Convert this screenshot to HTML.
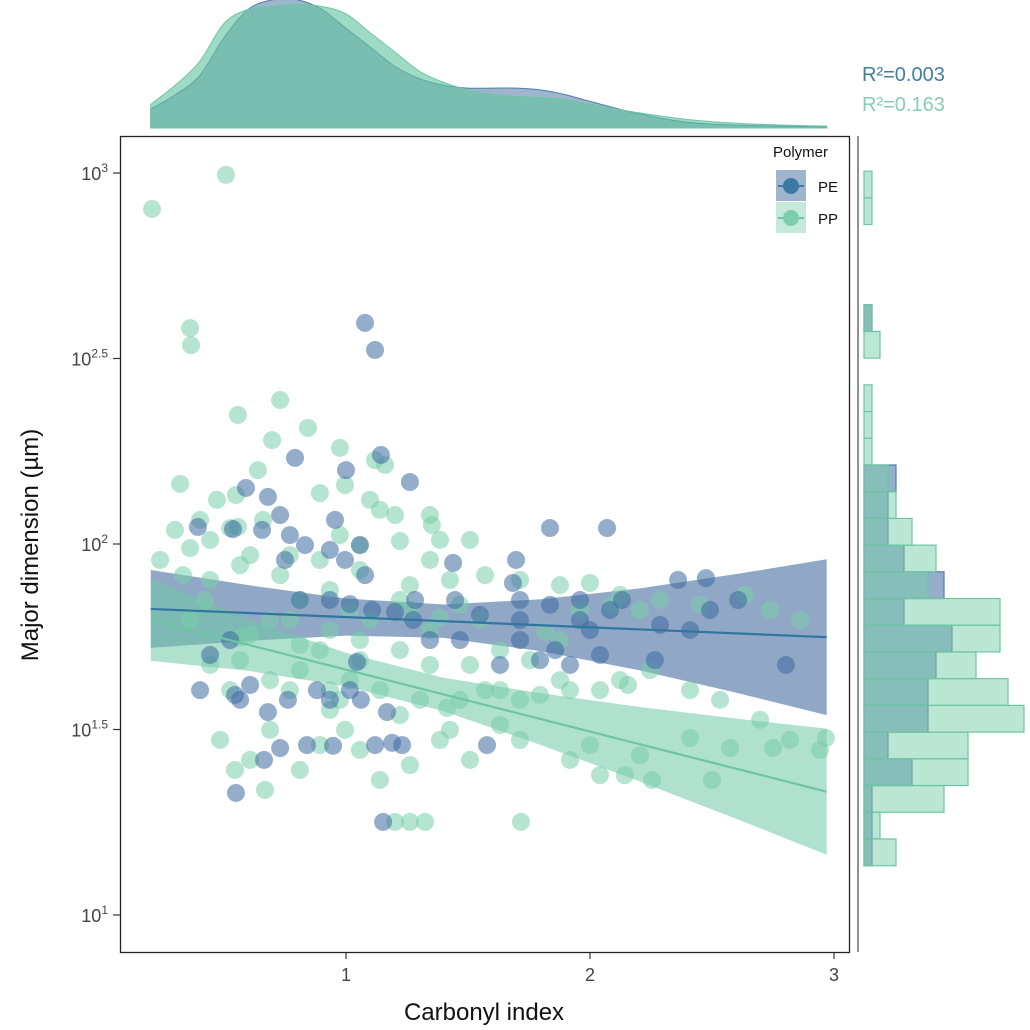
<!DOCTYPE html>
<html><head><meta charset="utf-8"><style>
html,body{margin:0;padding:0;background:#fff;}
svg{display:block;font-family:"Liberation Sans",Arial,sans-serif;}
</style></head><body>
<svg id="chart" width="1030" height="1030" viewBox="0 0 1030 1030" xmlns="http://www.w3.org/2000/svg">
<g id="density"></g>
<g id="hist"></g>
<g id="bands"></g>
<g id="points"></g>
<g id="lines"></g>
<rect x="120.5" y="136.5" width="729" height="816" fill="none" stroke="#222" stroke-width="1.3"/>
<line x1="858" y1="136" x2="858" y2="952" stroke="#222" stroke-width="1"/>
<g id="axes"></g>
<text x="484" y="1020" font-size="24" text-anchor="middle" fill="#111">Carbonyl index</text>
<text transform="translate(38,545) rotate(-90)" font-size="24" text-anchor="middle" fill="#111">Major dimension (µm)</text>
<g>
<text x="773" y="157" font-size="15" fill="#111">Polymer</text>
<g>
<rect x="776" y="170" width="30" height="31" fill="rgba(80,120,165,0.55)"/>
<line x1="778" y1="186" x2="804" y2="186" stroke="#3a7aa3" stroke-width="2"/>
<circle cx="791" cy="186" r="8" fill="#3a7aa3"/>
<text x="818" y="192" font-size="15" fill="#111">PE</text>
</g>
<g>
<rect x="776" y="202" width="30" height="31" fill="rgba(110,200,165,0.4)"/>
<line x1="778" y1="218" x2="804" y2="218" stroke="#6cc6a4" stroke-width="2"/>
<circle cx="791" cy="218" r="8" fill="#7ccfae"/>
<text x="818" y="224" font-size="15" fill="#111">PP</text>
</g>
</g>
<text x="862" y="81" font-size="20" fill="#3f7fa0">R²=0.003</text>
<text x="862" y="111" font-size="20" fill="#84cfb2">R²=0.163</text>
</svg>
<script>
// ---- data ----
const peX = [1.078,1.119,0.590,0.680,0.730,0.791,1.000,1.143,1.262,0.393,0.537,0.656,0.770,0.832,0.750,0.934,0.996,1.057,0.955,1.078,1.836,2.070,1.697,1.684,1.439,1.275,1.201,1.344,1.107,1.016,0.934,0.811,1.549,1.713,1.836,1.959,1.959,2.0,2.131,2.287,2.492,2.607,2.803,2.361,1.467,1.713,1.857,2.041,1.918,1.631,0.525,0.443,0.607,0.680,0.762,0.566,0.402,0.545,0.730,0.840,1.016,0.934,0.881,1.061,1.168,0.947,1.230,1.189,1.119,1.578,0.549,0.664,1.152,1.045,1.795,1.713,1.283,1.447,2.082,2.266,2.410,2.475];
const peY = [2.596,2.523,2.151,2.127,2.078,2.232,2.199,2.240,2.167,2.046,2.040,2.038,2.024,1.997,1.957,1.984,1.957,1.997,2.065,1.916,2.043,2.043,1.957,1.895,1.949,1.795,1.817,1.741,1.822,1.838,1.849,1.849,1.809,1.795,1.836,1.849,1.795,1.768,1.849,1.782,1.822,1.849,1.674,1.903,1.741,1.741,1.714,1.701,1.674,1.674,1.741,1.701,1.620,1.547,1.580,1.580,1.606,1.593,1.450,1.458,1.606,1.580,1.606,1.580,1.547,1.456,1.458,1.464,1.458,1.458,1.329,1.418,1.251,1.682,1.687,1.849,1.849,1.849,1.822,1.687,1.768,1.908];
const ppX = [0.205,0.508,0.361,0.365,0.557,0.730,0.697,0.320,0.639,0.471,0.549,0.660,0.557,0.844,0.975,1.119,1.160,0.893,0.996,1.098,1.201,1.344,0.238,0.361,0.525,0.443,0.607,0.770,0.893,0.975,1.057,1.221,1.344,1.139,1.385,0.443,0.566,0.730,0.811,0.934,1.057,1.262,1.426,1.570,1.713,1.877,2.0,2.123,2.287,2.451,2.635,2.861,2.738,2.205,1.877,1.549,1.344,1.221,1.057,0.893,0.770,0.607,0.566,0.689,0.811,0.975,1.016,1.139,1.303,1.467,1.631,1.754,1.877,2.041,2.123,2.246,2.410,2.533,2.697,2.820,2.943,0.607,0.668,0.545,0.484,0.689,0.811,0.893,0.934,0.996,1.057,1.139,1.262,1.385,1.508,1.631,1.713,1.918,2.041,2.205,2.410,2.500,2.574,2.750,2.967,2.254,2.143,1.262,1.201,1.324,1.717,1.414,1.570,1.713,1.918,2.0,2.156,1.795,1.631,1.467,1.344,1.508,0.566,0.422,0.332,0.299,0.402,1.508,1.352,1.221,1.016,0.934,0.811,1.057,1.221,1.426,1.816,1.959,2.090,0.934,0.770,0.525,0.443,0.361,1.385,1.262,1.098,0.689];
const ppY = [2.903,2.995,2.582,2.536,2.348,2.388,2.280,2.162,2.199,2.119,2.132,2.065,2.046,2.313,2.259,2.226,2.213,2.137,2.159,2.119,2.078,2.078,1.957,1.989,2.043,2.011,1.970,1.970,1.957,2.024,1.997,2.008,1.957,2.092,2.011,1.903,1.943,1.916,1.849,1.876,1.930,1.889,1.903,1.916,1.903,1.889,1.895,1.863,1.849,1.836,1.863,1.795,1.822,1.822,1.741,1.795,1.768,1.714,1.741,1.714,1.795,1.755,1.687,1.633,1.660,1.580,1.633,1.606,1.580,1.580,1.606,1.687,1.633,1.606,1.633,1.660,1.606,1.580,1.526,1.472,1.445,1.418,1.337,1.391,1.472,1.499,1.391,1.458,1.553,1.499,1.445,1.364,1.404,1.472,1.418,1.512,1.472,1.418,1.377,1.431,1.477,1.364,1.450,1.450,1.477,1.364,1.377,1.251,1.251,1.251,1.251,1.558,1.606,1.580,1.606,1.458,1.620,1.593,1.714,1.836,1.674,1.674,1.747,1.849,1.916,2.038,2.065,2.011,2.051,1.849,1.822,1.768,1.728,1.687,1.539,1.499,1.763,1.822,1.836,1.606,1.606,1.606,1.674,1.795,1.801,1.822,1.795,1.795];
// regression fits (log10 y = intercept + slope * x)
const peFit = [1.8305, -0.0275];
const ppFit = [1.8284, -0.167];
const bandX = [0.2,0.6,1.0,1.4,1.8,2.2,2.6,2.97];
const peBandHalf = [0.105,0.075,0.05,0.045,0.07,0.11,0.16,0.21];
const ppBandHalf = [0.11,0.07,0.045,0.045,0.07,0.10,0.135,0.17];
// marginal density (x grid, heights)
const densX = [0.2,0.3,0.4,0.5,0.6,0.7,0.8,0.9,1.0,1.1,1.2,1.3,1.4,1.5,1.6,1.7,1.8,1.9,2.0,2.2,2.4,2.6,2.8,2.97];
const pePdf = [20,35,55,95,125,135,135,125,105,85,65,52,45,42,42,42,40,35,28,15,6,3,2,1];
const ppPdf = [25,45,70,110,125,128,130,128,120,100,80,60,48,40,35,33,32,30,25,16,9,5,3,2];
// marginal histogram (log10 bins)
const binStart = 1.133, binWidth = 0.072;
const peCounts = [1,1,1,6,3,8,8,9,11,5,10,5,3,3,4,0,0,0,0,0,1,0,0,0,0,0];
const ppCounts = [4,2,10,13,13,20,18,14,17,17,8,9,6,4,3,1,1,1,0,2,1,0,0,0,1,1];
const xTicks = [1,2,3];
const yTicks = [1,1.5,2,2.5,3];
const yTickLabels = ["1","1.5","2","2.5","3"];

// ---- scales ----
const X = v => 346 + (v - 1) * 244;
const Y = v => 915 - (v - 1) * 371;
const DY = v => 128 - v * 0.95;
const HX = c => 864 + c * 8;
const NS = "http://www.w3.org/2000/svg";
function mk(tag, parent, attrs){const e=document.createElementNS(NS,tag);for(const k in attrs)e.setAttribute(k,attrs[k]);parent.appendChild(e);return e;}

// density (smooth Catmull-Rom through the samples)
const dens = document.getElementById('density');
function densPath(arr){
  const p = densX.map((x,i)=>[X(x), DY(arr[i])]);
  let d = `M${p[0][0]},128 L${p[0][0]},${p[0][1]}`;
  for(let i=0;i<p.length-1;i++){
    const p0=p[Math.max(0,i-1)], p1=p[i], p2=p[i+1], p3=p[Math.min(p.length-1,i+2)];
    const c1=[p1[0]+(p2[0]-p0[0])/6, p1[1]+(p2[1]-p0[1])/6];
    const c2=[p2[0]-(p3[0]-p1[0])/6, p2[1]-(p3[1]-p1[1])/6];
    d+=` C${c1[0]},${c1[1]} ${c2[0]},${c2[1]} ${p2[0]},${p2[1]}`;
  }
  d += ` L${p[p.length-1][0]},128 Z`;
  return d;
}
const dpe = mk('path', dens, {d:densPath(pePdf), fill:'rgba(80,120,165,0.55)', stroke:'#4f7fa6', 'stroke-width':1});


const dpp = mk('path', dens, {d:densPath(ppPdf), fill:'rgba(100,195,160,0.62)', stroke:'#6cc6a4', 'stroke-width':1});



// histogram
const hist = document.getElementById('hist');
function drawHist(counts, fill, stroke, nm){
  counts.forEach((c,k)=>{
    if(!c) return;
    const lo = binStart + k*binWidth, hi = lo + binWidth;
    const r = mk('rect', hist, {x:864, y:Y(hi), width:HX(c)-864, height:Y(lo)-Y(hi), fill:fill, stroke:stroke, 'stroke-width':1.2});
    
    
  });
}
drawHist(peCounts, 'rgba(80,120,165,0.6)', '#4f7fa6', 'hist-bar-pe');
drawHist(ppCounts, 'rgba(120,205,170,0.5)', '#6cc6a4', 'hist-bar-pp');

// bands
const bands = document.getElementById('bands');
function bandPath(fit, half){
  let up='', lo='';
  bandX.forEach((x,i)=>{const c=fit[0]+fit[1]*x;up+=(i?' L':'M')+X(x)+','+Y(c+half[i]);});
  for(let i=bandX.length-1;i>=0;i--){const c=fit[0]+fit[1]*bandX[i];lo+=' L'+X(bandX[i])+','+Y(c-half[i]);}
  return up+lo+' Z';
}
const bpe = mk('path', bands, {d:bandPath(peFit, peBandHalf), fill:'rgba(70,110,160,0.6)'});


const bpp = mk('path', bands, {d:bandPath(ppFit, ppBandHalf), fill:'rgba(110,200,165,0.55)'});



// points
const pts = document.getElementById('points');
ppX.forEach((x,i)=>{
  const c = mk('circle', pts, {cx:X(x), cy:Y(ppY[i]), r:9, fill:'rgba(120,205,170,0.55)'});
  
  
});
peX.forEach((x,i)=>{
  const c = mk('circle', pts, {cx:X(x), cy:Y(peY[i]), r:9, fill:'rgba(60,105,160,0.55)'});
  
  
});

// regression lines
const lines = document.getElementById('lines');
const x0 = bandX[0], x1 = bandX[bandX.length-1];
const lpe = mk('line', lines, {x1:X(x0), y1:Y(peFit[0]+peFit[1]*x0), x2:X(x1), y2:Y(peFit[0]+peFit[1]*x1), stroke:'#2f76a0', 'stroke-width':2.2});


const lpp = mk('line', lines, {x1:X(x0), y1:Y(ppFit[0]+ppFit[1]*x0), x2:X(x1), y2:Y(ppFit[0]+ppFit[1]*x1), stroke:'#6cc6a4', 'stroke-width':2.2});



// axes
const axes = document.getElementById('axes');
xTicks.forEach(t=>{
  const l = mk('line', axes, {x1:X(t), y1:952, x2:X(t), y2:959, stroke:'#333', 'stroke-width':1.2});
  
  
  const tx = mk('text', axes, {x:X(t), y:981, 'font-size':18, 'text-anchor':'middle', fill:'#444'});
  tx.textContent = String(t);
  
  
});
yTicks.forEach((t,i)=>{
  const l = mk('line', axes, {x1:113, y1:Y(t), x2:120, y2:Y(t), stroke:'#333', 'stroke-width':1.2});
  
  
  const tx = mk('text', axes, {x:108, y:Y(t)+7, 'font-size':18, 'text-anchor':'end', fill:'#444'});
  
  
  const b = document.createElementNS(NS,'tspan'); b.textContent='10'; tx.appendChild(b);
  const s = document.createElementNS(NS,'tspan'); s.setAttribute('dy','-8'); s.setAttribute('font-size','12'); s.textContent=yTickLabels[i]; tx.appendChild(s);
});
</script>
</body></html>
